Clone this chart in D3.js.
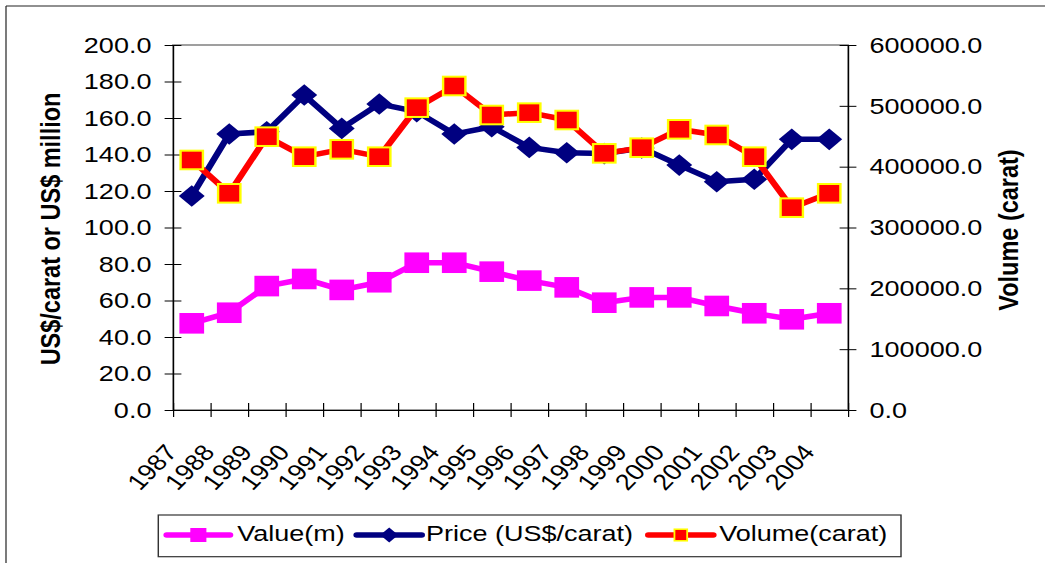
<!DOCTYPE html>
<meta charset="utf-8">
<style>
body { margin: 0; background: #ffffff; }
text { font-family: "Liberation Sans", Arial, sans-serif; fill: #000000; }
</style>
<body>
<script src="https://cdnjs.cloudflare.com/ajax/libs/d3/7.8.5/d3.min.js"></script>
<script>

// data
var years = ["1987","1988","1989","1990","1991","1992","1993","1994","1995",
             "1996","1997","1998","1999","2000","2001","2002","2003","2004"];
var valueM = [47.5, 53.3, 67.9, 71.8, 65.8, 70.0, 80.7, 80.7, 75.8,
              70.9, 67.2, 58.8, 61.7, 61.7, 57.0, 53.0, 49.7, 53.0];
var price  = [117.3, 151.2, 152.5, 172.6, 154.3, 167.7, 163.5, 151.2, 155.2,
              143.9, 141.0, 140.5, 143.6, 134.2, 125.1, 126.4, 148.3, 148.3];
var volume = [411000, 356200, 449300, 416400, 428500, 416400, 497000, 532600, 484900,
              488800, 476700, 421900, 431200, 461400, 452100, 416400, 332600, 356200];
var leftTicks  = d3.range(0, 201, 20);
var rightTicks = d3.range(0, 600001, 100000);
var legendNames = ["Value(m)", "Price (US$/carat)", "Volume(carat)"];

// the picture is stretched sideways, so draw in a narrower box and let the svg stretch it
var SX = 1.2, W = 1045, H = 563, VW = W / SX;
function px(v) { return v / SX; }

var L = px(173), R = px(848), T = 45, B = 410;
var fontSize = 22.5;

var svg = d3.select("body").append("svg")
    .attr("width", W)
    .attr("height", H)
    .attr("viewBox", "0 0 " + VW + " " + H)
    .attr("preserveAspectRatio", "none")
    .style("display", "block");

// outer frame (top and left only are visible)
svg.append("line").attr("x1", px(6)).attr("y1", 6).attr("x2", VW).attr("y2", 6)
    .attr("stroke", "#222").attr("stroke-width", 1);
svg.append("line").attr("x1", px(6)).attr("y1", 6).attr("x2", px(6)).attr("y2", H)
    .attr("stroke", "#222").attr("stroke-width", 1);

var x = d3.scaleBand().domain(years).range([L, R]);
var xb = d3.scaleLinear().domain([0, years.length]).range([L, R]); // category edges
var yL = d3.scaleLinear().domain([0, 200]).range([B, T]);
var yR = d3.scaleLinear().domain([0, 600000]).range([B, T]);
function xc(i) { return x(years[i]) + x.bandwidth() / 2; }

// plot area border
svg.append("rect")
    .attr("x", L).attr("y", T).attr("width", R - L).attr("height", B - T)
    .attr("fill", "none").attr("stroke", "#808080").attr("stroke-width", 1.5);

// left axis
svg.append("g")
    .attr("transform", "translate(" + L + ",0)")
    .call(d3.axisLeft(yL).tickValues(leftTicks).tickFormat(d3.format(".1f"))
      .tickSizeInner(7).tickSizeOuter(0).tickPadding(11))
    .call(function(g) {
      g.selectAll(".tick line").attr("x1", 7);
      g.selectAll("text").attr("font-size", fontSize);
      g.attr("font-family", null);
    });

// right axis
svg.append("g")
    .attr("transform", "translate(" + R + ",0)")
    .call(d3.axisRight(yR).tickValues(rightTicks).tickFormat(d3.format(".1f"))
      .tickSizeInner(7).tickSizeOuter(0).tickPadding(11))
    .call(function(g) {
      g.selectAll(".tick line").attr("x1", -7);
      g.selectAll("text").attr("font-size", fontSize);
      g.attr("font-family", null);
    });

// bottom axis, ticks on category edges, labels hang off the left edge of each category
svg.append("g")
    .attr("transform", "translate(0," + B + ")")
    .call(d3.axisBottom(xb).tickValues(d3.range(0, years.length + 1))
      .tickFormat(function(i) { return years[i] || ""; })
      .tickSizeInner(7).tickSizeOuter(0))
    .call(function(g) {
      g.selectAll(".tick line").attr("y1", -7);
      g.attr("font-family", null);
      g.selectAll("text")
        .attr("font-size", fontSize)
        .attr("text-anchor", "end")
        .attr("x", 0).attr("y", 0).attr("dy", 0)
        .attr("transform", "translate(4,43) rotate(-50.2)");
    });

// axis titles
svg.append("text")
    .attr("transform", "translate(" + px(50) + ",229) rotate(-90)")
    .attr("text-anchor", "middle")
    .attr("dy", "0.35em")
    .style("font-size", "23.5px")
    .style("font-weight", "bold")
    .text("US$/carat or US$ million");

svg.append("text")
    .attr("transform", "translate(" + px(1008) + ",230) rotate(-90)")
    .attr("text-anchor", "middle")
    .attr("dy", "0.35em")
    .style("font-size", "23.5px")
    .style("font-weight", "bold")
    .text("Volume (carat)");

function diamond(h) { return "M0," + (-h) + "L" + h + ",0L0," + h + "L" + (-h) + ",0Z"; }

// series: Value(m)
svg.append("path")
    .datum(valueM)
    .attr("fill", "none").attr("stroke", "#FF00FF").attr("stroke-width", 5.5)
    .attr("stroke-linejoin", "round")
    .attr("d", d3.line().x(function(d, i) { return xc(i); }).y(function(d) { return yL(d); }));
svg.selectAll(".valMark")
    .data(valueM)
    .enter().append("rect")
    .attr("class", "valMark")
    .attr("x", function(d, i) { return xc(i) - 10.3; })
    .attr("y", function(d) { return yL(d) - 10.3; })
    .attr("width", 20.6).attr("height", 20.6)
    .attr("fill", "#FF00FF");

// series: Price
svg.append("path")
    .datum(price)
    .attr("fill", "none").attr("stroke", "#000080").attr("stroke-width", 5.5)
    .attr("stroke-linejoin", "round")
    .attr("d", d3.line().x(function(d, i) { return xc(i); }).y(function(d) { return yL(d); }));
svg.selectAll(".priceMark")
    .data(price)
    .enter().append("path")
    .attr("class", "priceMark")
    .attr("transform", function(d, i) { return "translate(" + xc(i) + "," + yL(d) + ")"; })
    .attr("d", diamond(10.8))
    .attr("fill", "#000080");

// series: Volume (right axis)
svg.append("path")
    .datum(volume)
    .attr("fill", "none").attr("stroke", "#FF0000").attr("stroke-width", 5.5)
    .attr("stroke-linejoin", "round")
    .attr("d", d3.line().x(function(d, i) { return xc(i); }).y(function(d) { return yR(d); }));
svg.selectAll(".volMark")
    .data(volume)
    .enter().append("rect")
    .attr("class", "volMark")
    .attr("x", function(d, i) { return xc(i) - 9.3; })
    .attr("y", function(d) { return yR(d) - 9.3; })
    .attr("width", 18.6).attr("height", 18.6)
    .attr("fill", "#FF0000").attr("stroke", "#FFFF00").attr("stroke-width", 2);

// legend
var leg = svg.append("g");
leg.append("rect")
    .attr("x", px(158.3)).attr("y", 515)
    .attr("width", px(901) - px(158.3)).attr("height", 41.7)
    .attr("fill", "#fff").attr("stroke", "#333").attr("stroke-width", 1.2);

var legItems = [
  { name: legendNames[0], color: "#FF00FF", x0: px(166.7), x1: px(230), tx: px(237.3), mark: "square" },
  { name: legendNames[1], color: "#000080", x0: px(356.7), x1: px(421.7), tx: px(426), mark: "diamond" },
  { name: legendNames[2], color: "#FF0000", x0: px(648.3), x1: px(713.3), tx: px(719.3), mark: "yellowSquare" }
];
var ly = 535;
legItems.forEach(function(it) {
  leg.append("line")
    .attr("x1", it.x0).attr("x2", it.x1).attr("y1", ly).attr("y2", ly)
    .attr("stroke", it.color).attr("stroke-width", 5.5).attr("stroke-linecap", "round");
  var mx = (it.x0 + it.x1) / 2;
  if (it.mark === "square") {
    leg.append("rect").attr("x", mx - 6.7).attr("y", ly - 7).attr("width", 13.4).attr("height", 14)
      .attr("fill", it.color);
  } else if (it.mark === "diamond") {
    leg.append("path").attr("transform", "translate(" + mx + "," + ly + ")")
      .attr("d", diamond(7.5)).attr("fill", it.color);
  } else {
    leg.append("rect").attr("x", mx - 5.3).attr("y", ly - 5.8).attr("width", 10.6).attr("height", 11.6)
      .attr("fill", it.color).attr("stroke", "#FFFF00").attr("stroke-width", 1.5);
  }
  leg.append("text")
    .attr("x", it.tx).attr("y", 541)
    .style("font-size", fontSize + "px")
    .text(it.name);
});

</script>
</body>
